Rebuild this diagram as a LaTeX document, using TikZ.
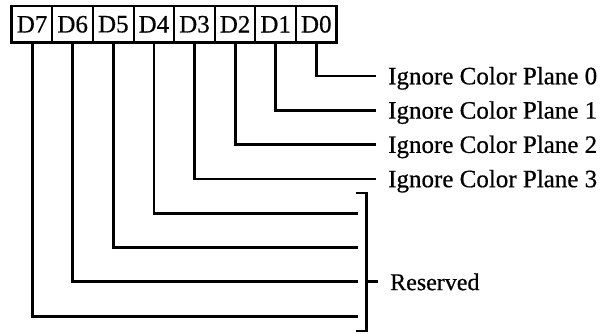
\documentclass[tikz,border=0pt]{standalone}
\usepackage{fontspec}
\setmainfont[FakeBold=0.6]{Liberation Serif}
\begin{document}
\begin{tikzpicture}[x=1pt,y=-1pt,
  cell/.style={draw,line width=2pt,minimum width=40.6pt,minimum height=36.6pt,
    inner sep=0pt,outer sep=0pt,font=\fontsize{25}{25}\selectfont},
  conn/.style={line width=2.8pt,line join=miter,line cap=rect},
  lbl/.style={inner sep=0pt,font=\fontsize{25}{25}\selectfont}]
\useasboundingbox (0,0) rectangle (606,333);
\foreach \i in {0,...,7}
  \node[cell] (c\i) at ({32.1+40.6*(7-\i)},24.3) {D\i};
\draw[line width=2.8pt] (c7.north west) rectangle (c0.south east);
% bit lines
\foreach \i in {0,...,3}{
  \coordinate (e\i) at (374.5,{76+34.3*\i});
  \draw[conn] (c\i.south) |- (e\i);
  \node[lbl,anchor=base west] (t\i) at (388,{76+34.3*\i+8.3}) {Ignore Color Plane \i};
}
\foreach \i in {4,...,7}{
  \coordinate (e\i) at (357,{76+34.3*\i});
  \draw[conn] (c\i.south) |- (e\i);
}
% bracket
\coordinate (bt) at (357,193);
\coordinate (btc) at (366.7,193);
\coordinate (bbc) at (366.7,331);
\coordinate (bb) at (357,331);
\draw[conn] (bt) -- (btc) -- (bbc) -- (bb);
\coordinate (bm) at (366.7,281.8);
\coordinate (bmr) at (376.5,281.8);
\draw[conn] (bm) -- (bmr);
\node[lbl,anchor=base west,font=\fontsize{24}{24}\selectfont] (r) at (390,290.1) {Reserved};
\end{tikzpicture}
\end{document}
